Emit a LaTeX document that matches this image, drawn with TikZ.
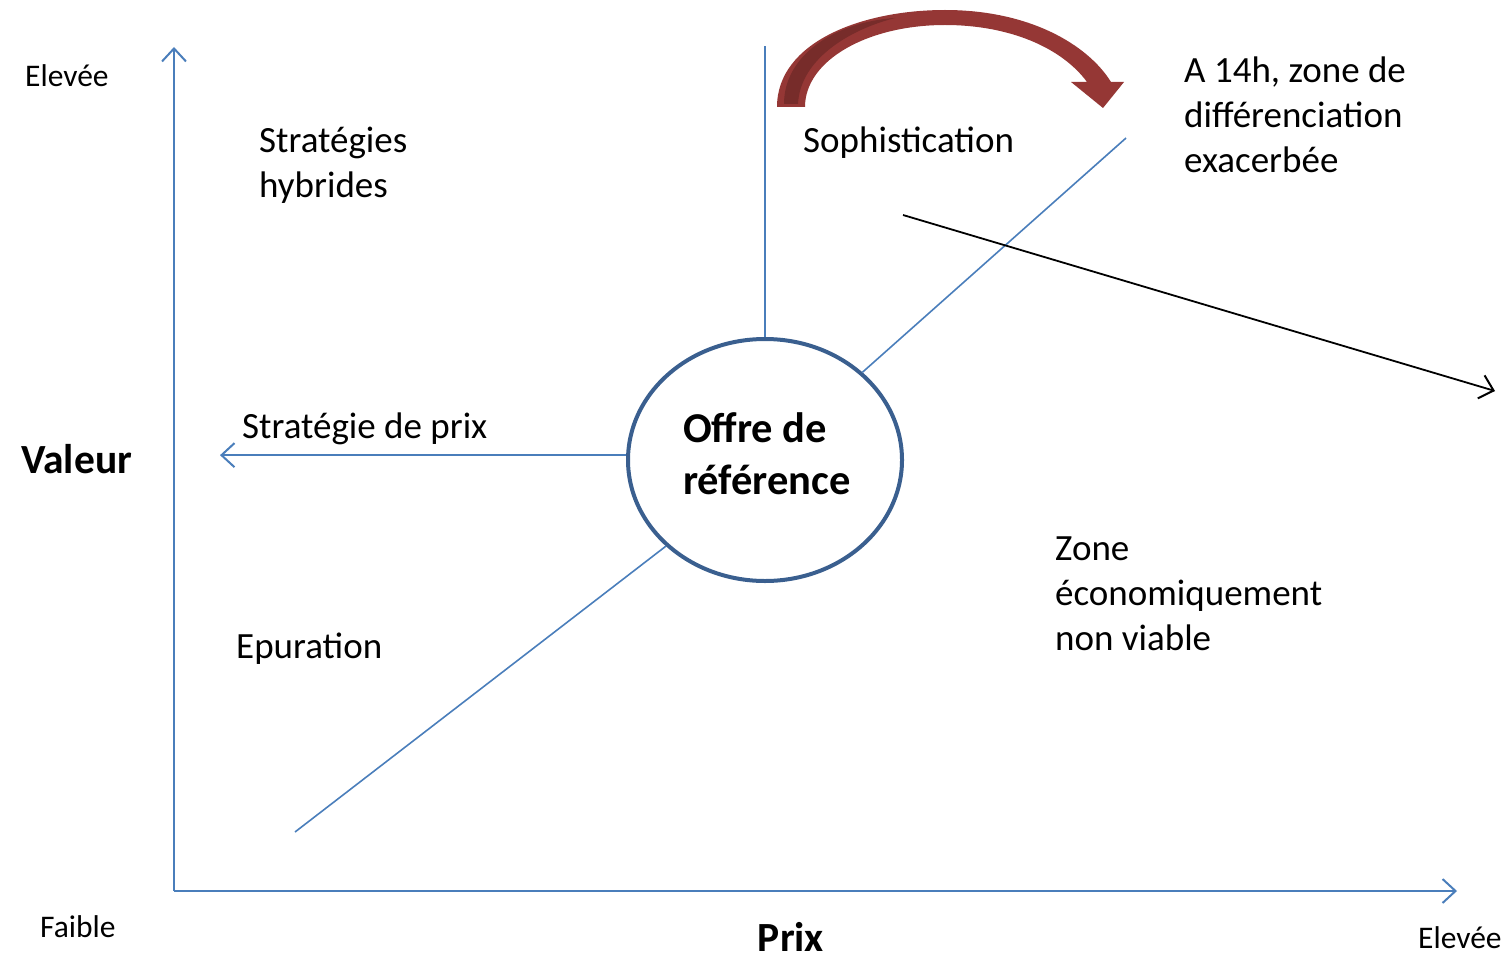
\documentclass[tikz,border=0pt]{standalone}
\usepackage{fontspec}
\setmainfont{Carlito}
\usetikzlibrary{arrows.meta,shapes.geometric}
\definecolor{axisblue}{HTML}{4A7EBB}
\definecolor{ringblue}{HTML}{3A5F8F}
\definecolor{curvered}{HTML}{953735}
\definecolor{curvedark}{HTML}{772C2A}
\begin{document}
\begin{tikzpicture}[x=1pt,y=-1pt,
  label/.style={inner sep=0pt,anchor=west,font=\fontsize{37}{45}\selectfont,align=left},
  small/.style={inner sep=0pt,anchor=west,font=\fontsize{31.5}{38}\selectfont},
  axistitle/.style={inner sep=0pt,font=\fontsize{41.5}{48}\selectfont\bfseries},
  blueline/.style={draw=axisblue,line width=1.6pt},
  openhead/.style={-{Straight Barb[length=13pt,width=24pt,line width=2pt]}}
]
\useasboundingbox (0,0) rectangle (1503,960);

% axes
\coordinate (origin) at (174,891);
\coordinate (ytop) at (174,47);
\coordinate (xend) at (1457,891);
\draw[blueline,openhead] (origin) -- (ytop);
\draw[blueline,openhead] (origin) -- (xend);

% central offer
\node[ellipse,draw=ringblue,line width=4pt,minimum width=274pt,minimum height=242pt,inner sep=0pt] (offre) at (765,460) {};
\node[inner sep=0pt,font=\fontsize{42.5}{52}\selectfont\bfseries,align=left] (offretxt) at (767,454)
      {Offre de\\référence};

% strategy directions
\coordinate (up) at (765,46);
\coordinate (ne) at (1126,138);
\coordinate (left) at (220,454);
\coordinate (sw) at (295,832);
\draw[blueline] (offre.north) -- (up);
\draw[blueline] (offre.42) -- (ne);
\draw[blueline,openhead] (offre.178) -- (offre.178 -| left);
\draw[blueline] (offre.221) -- (sw);

% black trend arrow
\coordinate (bstart) at (903,215);
\coordinate (bend) at (1495,391);
\draw[line width=1.8pt,-{Straight Barb[length=13pt,width=24pt,line width=2pt]}] (bstart) -- (bend);

% curved red arrow
\fill[curvered] (777,107) .. controls (777,42) and (862,10) .. (945,10)
   .. controls (1030,10) and (1088,45) .. (1111,82) -- (1124,82) -- (1103,108) -- (1071,82)
   -- (1087,82) .. controls (1062,48) and (1010,25) .. (945,25)
   .. controls (868,25) and (805,60) .. (805,107) -- cycle;
\fill[curvedark] (784,104) .. controls (784,55) and (835,22) .. (895,18)
   .. controls (848,30) and (800,60) .. (798,104) -- cycle;

% texts
\node[small] (hi) at (25,76) {Elevée};
\node[small] (lo) at (40,927) {Faible};
\node[small] (hix) at (1418,938) {Elevée};
\node[axistitle,anchor=west] (val) at (21,459) {Valeur};
\node[axistitle] (prix) at (791,937) {Prix};
\node[label] (hyb) at (259,165) {Stratégies\\hybrides};
\node[label] (soph) at (803,143) {Sophistication};
\node[label] (diff) at (1184,115) {A 14h, zone de\\différenciation\\exacerbée};
\node[label] (sprix) at (242,429) {Stratégie de prix};
\node[label] (epur) at (236,649) {Epuration};
\node[label] (zone) at (1055,594) {Zone\\économiquement\\non viable};
\end{tikzpicture}
\end{document}
